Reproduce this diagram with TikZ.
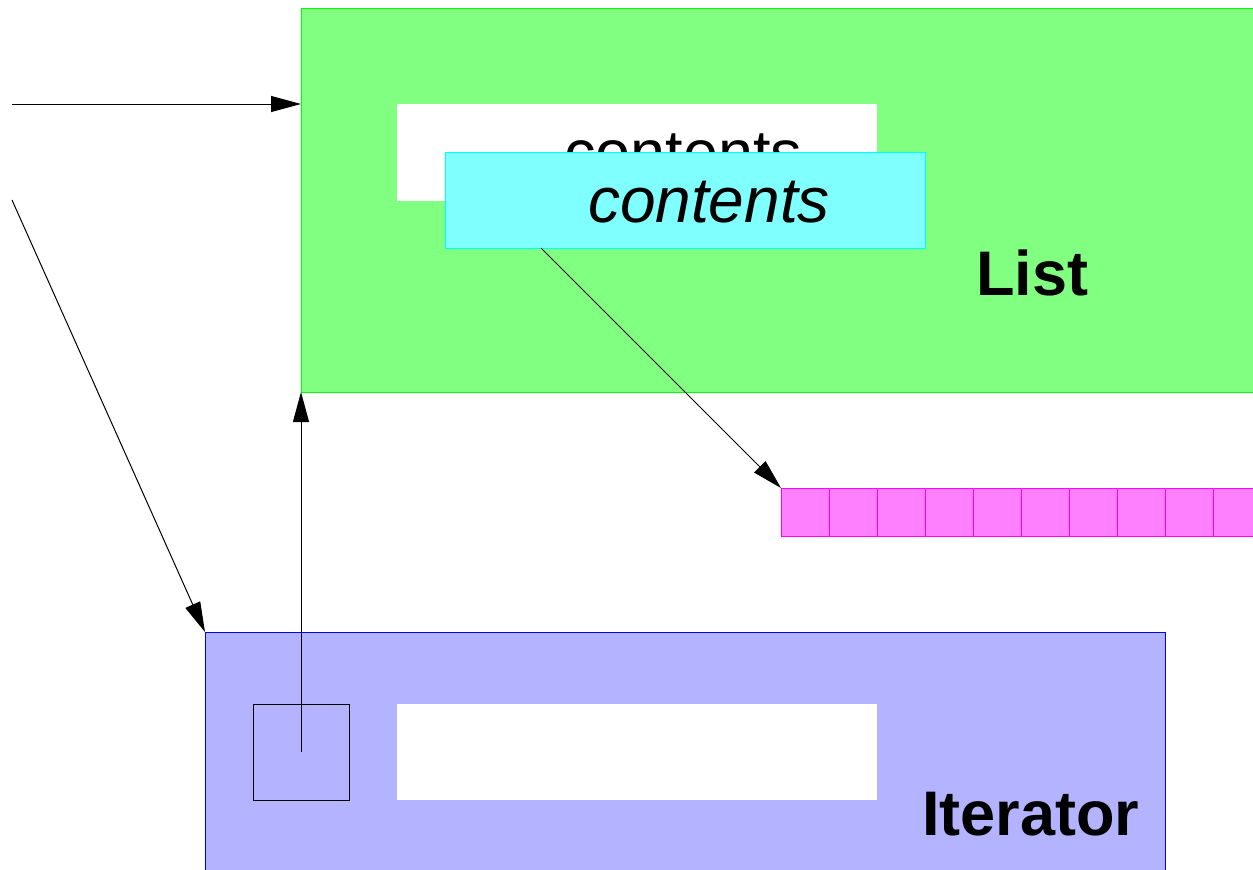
\documentclass[tikz,border=0pt]{standalone}
\usepackage{fontspec}
\setmainfont{Liberation Sans}
\usetikzlibrary{arrows.meta}
\definecolor{gfill}{RGB}{128,255,128}
\definecolor{gline}{RGB}{0,255,0}
\definecolor{cfill}{RGB}{128,255,255}
\definecolor{cline}{RGB}{0,255,255}
\definecolor{mfill}{RGB}{255,128,255}
\definecolor{mline}{RGB}{255,0,255}
\definecolor{bfill}{RGB}{179,179,255}
\definecolor{bline}{RGB}{0,0,255}
\tikzset{
  box/.style={rectangle, inner sep=0pt, outer sep=0pt, line width=1pt, anchor=north west},
  greenbox/.style={box, fill=gfill, draw=gline},
  bluebox/.style={box, fill=bfill, draw=bline},
  whitebox/.style={box, fill=white},
  cyanbox/.style={box, fill=cfill, draw=cline},
  cellbox/.style={box, fill=mfill, draw=mline, minimum width=48pt, minimum height=48pt},
  txt/.style={inner sep=0pt, outer sep=0pt, anchor=base west, font=\fontsize{63}{70}\selectfont},
  conn/.style={line width=1pt, -{Triangle[length=30pt,width=16pt]}},
}
\begin{document}
\begin{tikzpicture}[x=1pt,y=-1pt]
\useasboundingbox (0,0) rectangle (1253,870);
\clip (0,0) rectangle (1253,870);
% List box
\node[greenbox, minimum width=1100pt, minimum height=384pt] (list) at (301,8) {};
\node[whitebox, minimum width=480pt, minimum height=97pt] (wbox) at (397,104) {};
\node[txt] (ctxt) at (564,174) {contents};
\node[cyanbox, minimum width=480pt, minimum height=96pt] (cy) at (445,152) {};
\node[txt, font=\fontsize{64}{70}\selectfont\itshape] (citxt) at (588,222) {contents};
\node[txt, font=\fontsize{63}{70}\selectfont\bfseries] (listlbl) at (976,295) {List};
% array
\foreach \i in {0,...,9} {
  \node[cellbox] (cell\i) at (781+48*\i,488) {};
}
% Iterator box
\node[bluebox, minimum width=960pt, minimum height=300pt] (iter) at (205,632) {};
\node[box, draw=black, minimum width=96pt, minimum height=96pt] (sq) at (253,704) {};
\node[whitebox, minimum width=480pt, minimum height=96pt] (wbox2) at (397,704) {};
\node[txt, font=\fontsize{63}{70}\selectfont\bfseries] (iterlbl) at (922,835) {Iterator};
% connectors
\coordinate (s1) at (12,104);
\coordinate (s2) at (12,200);
\draw[conn] (s1) -- (list.west |- s1);
\draw[conn] (s2) -- (iter.north west);
\draw[conn] (sq.center) -- (sq.center |- list.south);
\draw[conn] ([xshift=96pt]cy.south west) -- (cell0.north west);
\end{tikzpicture}
\end{document}
